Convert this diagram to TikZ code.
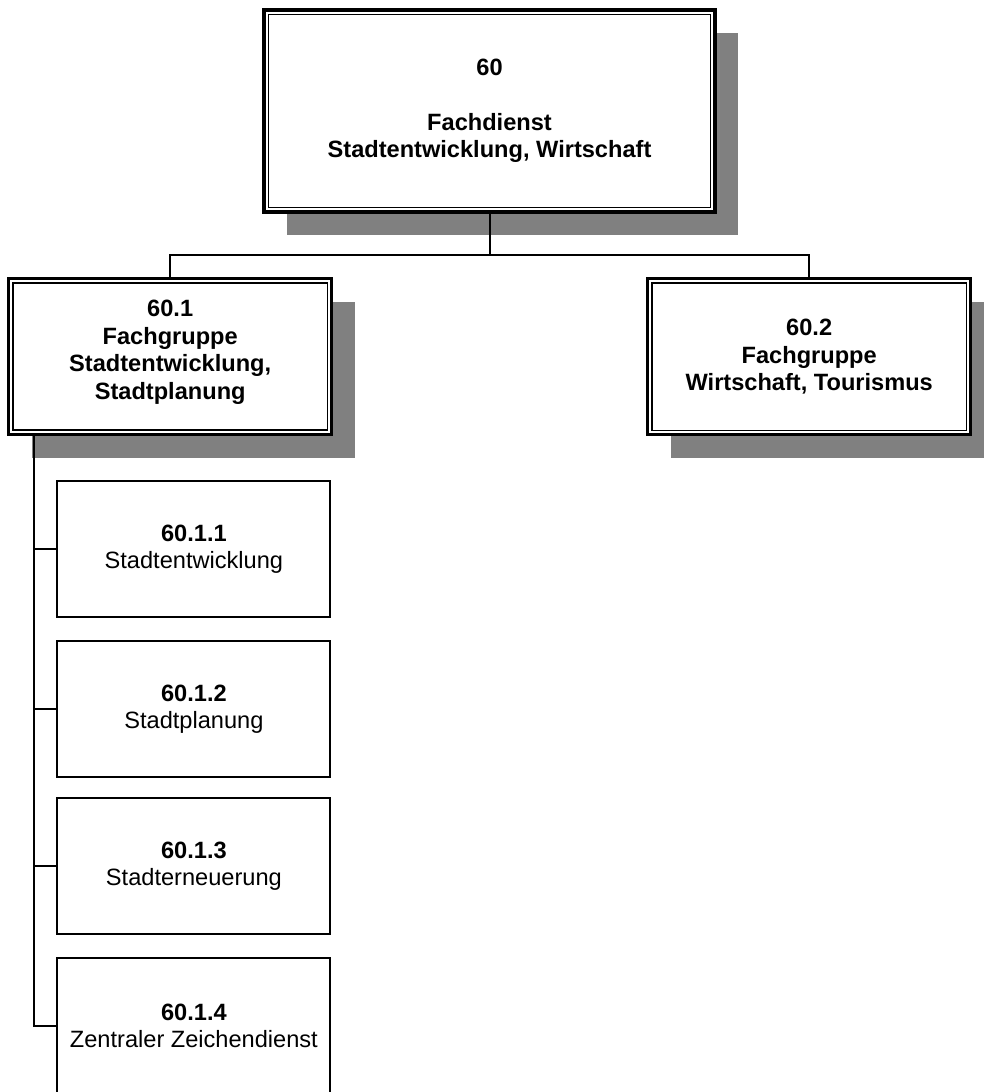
\documentclass[tikz,border=0pt]{standalone}
\usepackage{fontspec}
\setmainfont{Liberation Sans}
\usetikzlibrary{shadows}
\tikzset{
  unitbox/.style={draw, fill=white, line width=2pt, outer sep=0pt, inner sep=0pt,
    align=center, minimum width=273pt, minimum height=136pt,
    font=\fontsize{23.6}{27.5}\selectfont},
  groupbox/.style={unitbox, line width=#1, font=\fontsize{23.6}{27.5}\selectfont\bfseries,
    drop shadow={shadow xshift=23pt, shadow yshift=-23pt, fill=black!50, opacity=1},
    path picture={\draw[line width=1.5pt]
      ([shift={(4.4pt,-4.4pt)}]path picture bounding box.north west) rectangle
      ([shift={(-4.4pt,4.4pt)}]path picture bounding box.south east);}},
  groupbox/.default=2.7pt,
  link/.style={line width=2pt}
}
\begin{document}
\begin{tikzpicture}[x=1pt,y=-1pt]
  \useasboundingbox (0,0) rectangle (983,1092);
  % Fachdienst
  \node[groupbox=4pt, minimum width=451pt, minimum height=202pt] (fd) at (489.5,111)
    {60\\[27.5pt]Fachdienst\\Stadtentwicklung, Wirtschaft};
  % Fachgruppen
  \node[groupbox, minimum width=323pt, minimum height=156pt] (g1) at (170.2,356.5) {};
  \node[font=\fontsize{23.6}{27.5}\selectfont\bfseries, align=center] (g1text) at ([yshift=4pt]g1.center)
    {60.1\\Fachgruppe\\Stadtentwicklung,\\Stadtplanung};
  \node[groupbox, minimum width=323pt, minimum height=156pt] (g2) at (809.2,356.7)
    {60.2\\Fachgruppe\\Wirtschaft, Tourismus};
  % Sachgebiete
  \node[unitbox] (s1) at (193.9,549) {\textbf{60.1.1}\\Stadtentwicklung};
  \node[unitbox] (s2) at (193.9,709) {\textbf{60.1.2}\\Stadtplanung};
  \node[unitbox] (s3) at (193.9,866) {\textbf{60.1.3}\\Stadterneuerung};
  \node[unitbox] (s4) at (193.9,1026) {\textbf{60.1.4}\\Zentraler Zeichendienst};
  % Verbindungen
  \coordinate (bus) at (489.5,255);
  \draw[link] (fd.south) -- (bus) -| (g1.north);
  \draw[link] (bus) -| (g2.north);
  \coordinate (spine) at ([xshift=25.6pt]g1.south west);
  \draw[link] (spine) |- (s4.west);
  \foreach \i in {1,2,3}
    \draw[link] (s\i.west) -- (spine |- s\i.west);
\end{tikzpicture}
\end{document}
